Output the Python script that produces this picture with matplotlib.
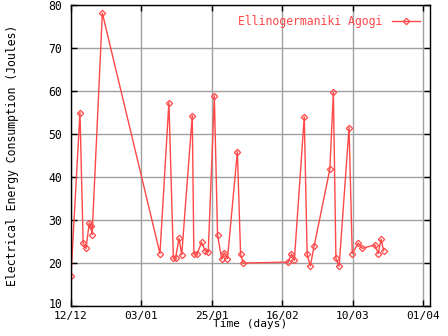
"""Energieverbruik Ellinogermaniki Agogi, nagetekend in gnuplot-stijl."""
import matplotlib
matplotlib.use("Agg")
import matplotlib.pyplot as plt
from matplotlib.transforms import ScaledTranslation

days = [0.0, 2.8, 3.8, 4.7, 5.7, 6.2, 6.6, 9.8,
        27.8, 30.6, 32.0, 32.7, 33.75, 34.6,
        37.9, 38.4, 39.4, 40.8, 41.9, 42.9,
        44.8, 45.8, 47.1, 47.9, 48.9,
        52.0, 53.0, 53.8, 67.9, 68.9, 69.8,
        72.9, 73.8, 74.8, 76.0, 80.9, 82.0, 82.8, 83.8,
        86.9, 87.9, 89.8, 91.0, 95.0, 96.0, 96.9, 97.7]
energy = [17.0, 55.0, 24.6, 23.4, 29.3, 28.5, 26.6, 78.1,
          22.2, 57.3, 21.1, 21.2, 25.7, 21.9,
          54.3, 22.1, 22.1, 24.8, 22.9, 22.6,
          58.9, 26.5, 20.9, 22.4, 21.0,
          45.9, 22.1, 20.0, 20.2, 22.1, 20.6,
          54.0, 22.0, 19.3, 24.0, 41.8, 59.7, 21.1, 19.3,
          51.5, 22.2, 24.6, 23.4, 24.2, 22.2, 25.5, 22.9]

tick_days = [0, 22, 44, 66, 88, 110]
tick_labels = ["12/12", "03/01", "25/01", "16/02", "10/03", "01/04"]
y_ticks = [10, 20, 30, 40, 50, 60, 70, 80]

RED = "#ff4848"
plt.rcParams["font.family"] = "DejaVu Sans Mono"
plt.rcParams["font.size"] = 8.3

fig = plt.figure(figsize=(4.48, 3.36), dpi=100)
ax = fig.add_axes([71 / 448, 1 - 306 / 336, (430 - 71) / 448, (306 - 5) / 336])

ax.plot(days, energy, color=RED, lw=1, marker="D", ms=3.2, mfc="none",
        mec=RED, mew=0.9, label="Ellinogermaniki Agogi")

ax.set_xlim(0, 112.2)
ax.set_ylim(10, 80)
ax.set_xticks(tick_days)
ax.set_xticklabels(tick_labels, fontsize=8)
ax.set_yticks(y_ticks)
ax.tick_params(direction="in", length=4, width=1, top=True, right=True)
ax.tick_params(axis="x", pad=3.5)
ax.tick_params(axis="y", pad=6.5)
ax.grid(color="#a0a0a0", lw=1)
for s in ax.spines.values():
    s.set_linewidth(1)

# "10" iets omhoog zodat het niet tegen "12/12" aan botst.
lab10 = ax.get_yticklabels()[0]
lab10.set_transform(lab10.get_transform() + ScaledTranslation(0, 3 / 100, fig.dpi_scale_trans))

ax.set_xlabel("Time (days)", fontsize=8, labelpad=-1)
ax.set_ylabel("Electrical Energy Consumption (Joules)", labelpad=21)

leg = ax.legend(loc="upper right", frameon=False, handlelength=2.4,
                handletextpad=0.8, borderaxespad=0.5, markerfirst=False)
for t in leg.get_texts():
    t.set_color(RED)

fig.savefig("out.png", dpi=100)
